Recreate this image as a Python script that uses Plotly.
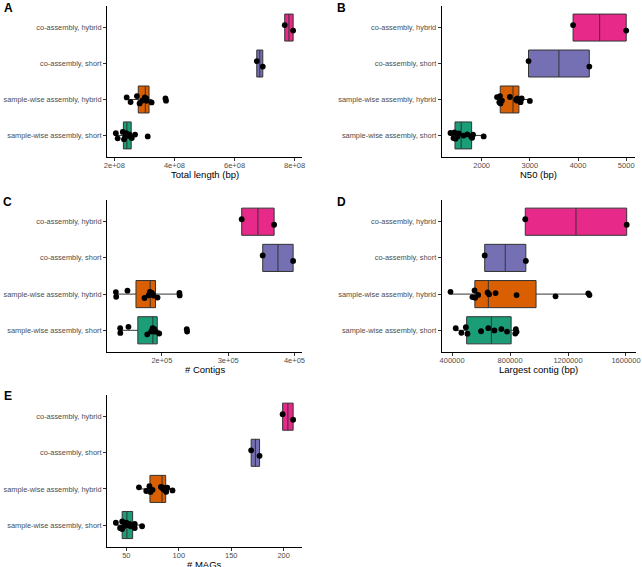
import plotly.graph_objects as go

W, H = 642, 567

categories = ["sample-wise assembly, short", "sample-wise assembly, hybrid",
              "co-assembly, short", "co-assembly, hybrid"]
fill_colors = ["#1B9E77", "#D95F02", "#7570B3", "#E7298A"]

# A: Total length (bp)
length_sw_short = [2.05e8, 2.11e8, 2.28e8, 2.32e8, 2.36e8, 2.39e8, 2.44e8, 2.50e8, 2.54e8, 2.58e8, 2.69e8, 3.11e8]
length_sw_hybrid = [2.41e8, 2.54e8, 2.75e8, 2.84e8, 2.93e8, 3.01e8, 3.05e8, 3.06e8, 3.07e8, 3.24e8, 3.70e8, 3.72e8]
length_co_short = [6.74e8, 6.94e8]
length_co_hybrid = [7.67e8, 7.95e8]
length_ticks = [2e8, 4e8, 6e8, 8e8]
length_ticklabels = ["2e+08", "4e+08", "6e+08", "8e+08"]

# B: N50 (bp)
n50_sw_short = [1352, 1414, 1435, 1455, 1500, 1524, 1624, 1700, 1781, 1801, 1820, 2041]
n50_sw_hybrid = [2318, 2366, 2380, 2390, 2420, 2586, 2714, 2738, 2738, 2807, 2830, 3000]
n50_co_short = [2972, 4234]
n50_co_hybrid = [3897, 5000]
n50_ticks = [2000, 3000, 4000, 5000]
n50_ticklabels = ["2000", "3000", "4000", "5000"]

# C: # Contigs
contigs_sw_short = [137000, 137200, 149500, 177800, 183800, 186000, 186800, 188800, 189900, 195900, 237500, 238000]
contigs_sw_hybrid = [130500, 131000, 148000, 173700, 180000, 181800, 182800, 185000, 187300, 193400, 226400, 226800]
contigs_co_short = [352100, 398000]
contigs_co_hybrid = [320400, 369300]
contigs_ticks = [2e5, 3e5, 4e5]
contigs_ticklabels = ["2e+05", "3e+05", "4e+05"]

# D: Largest contig (bp)
largest_sw_short = [425000, 464000, 495000, 506000, 600000, 650000, 692000, 740000, 779000, 836000, 840000, 845000]
largest_sw_hybrid = [389000, 540000, 555000, 559000, 580000, 645000, 655000, 700000, 845000, 1114000, 1340000, 1348000]
largest_co_short = [625000, 909000]
largest_co_hybrid = [905000, 1605000]
largest_ticks = [400000, 800000, 1200000, 1600000]
largest_ticklabels = ["400000", "800000", "1200000", "1600000"]

# E: # MAGs
mags_sw_short = [40, 44, 46, 46, 48, 50, 51, 53, 54, 58, 58, 65]
mags_sw_hybrid = [62, 69, 72, 73, 75, 83, 85, 85, 87, 88, 89, 94]
mags_co_short = [169, 177]
mags_co_hybrid = [199, 209]
mags_ticks = [50, 100, 150, 200]
mags_ticklabels = ["50", "100", "150", "200"]

FONT = "Liberation Sans, Arial, sans-serif"

# panel geometry in pixels: (left, right, top, bottom)
panels = [
    dict(letter="A", title="Total length (bp)", groups=[length_sw_short, length_sw_hybrid, length_co_short, length_co_hybrid],
         ticks=length_ticks, labels=length_ticklabels, box=(107, 302, 6, 157), lpos=(8.2, 8.2)),
    dict(letter="B", title="N50 (bp)", groups=[n50_sw_short, n50_sw_hybrid, n50_co_short, n50_co_hybrid],
         ticks=n50_ticks, labels=n50_ticklabels, box=(441.7, 635, 6, 157), lpos=(341.7, 8.2)),
    dict(letter="C", title="# Contigs", groups=[contigs_sw_short, contigs_sw_hybrid, contigs_co_short, contigs_co_hybrid],
         ticks=contigs_ticks, labels=contigs_ticklabels, box=(107, 302, 200, 352), lpos=(7.5, 201.7)),
    dict(letter="D", title="Largest contig (bp)", groups=[largest_sw_short, largest_sw_hybrid, largest_co_short, largest_co_hybrid],
         ticks=largest_ticks, labels=largest_ticklabels, box=(441.7, 635.5, 200, 352), lpos=(341.7, 201.7)),
    dict(letter="E", title="# MAGs", groups=[mags_sw_short, mags_sw_hybrid, mags_co_short, mags_co_hybrid],
         ticks=mags_ticks, labels=mags_ticklabels, box=(107, 302, 395, 546.7), lpos=(7.5, 395.5)),
]

fig = go.Figure()
layout = dict(
    width=W, height=H, margin=dict(l=0, r=0, t=0, b=0, autoexpand=False),
    paper_bgcolor="white", plot_bgcolor="white",
    showlegend=False, boxmode="overlay",
    font=dict(family=FONT, size=8, color="#4D4D4D"),
    annotations=[],
)

for i, p in enumerate(panels):
    n = "" if i == 0 else str(i + 1)
    xa, ya = "x" + n, "y" + n
    l, r, t, b = p["box"]
    allv = [v for g in p["groups"] for v in g]
    lo, hi = min(allv), max(allv)
    pad = 0.05 * (hi - lo)
    for cat, col, vals in zip(categories, fill_colors, p["groups"]):
        # box with Tukey whiskers (outlier markers hidden)
        fig.add_trace(go.Box(
            x=vals, y=[cat] * len(vals), orientation="h",
            xaxis=xa, yaxis=ya, width=0.75,
            fillcolor=col, line=dict(color="#333333", width=1),
            whiskerwidth=0, boxpoints="outliers",
            marker=dict(color="rgba(0,0,0,0)", size=1, opacity=0),
            quartilemethod="linear", hoverinfo="skip",
        ))
        # jittered sample points on top
        fig.add_trace(go.Box(
            x=vals, y=[cat] * len(vals), orientation="h",
            xaxis=xa, yaxis=ya, width=0.75,
            fillcolor="rgba(0,0,0,0)", line=dict(color="rgba(0,0,0,0)", width=0),
            whiskerwidth=0, boxpoints="all", jitter=0.35, pointpos=0,
            marker=dict(color="black", size=5.8, line=dict(width=0)),
            quartilemethod="linear",
        ))
    layout["xaxis" + n] = dict(
        domain=[l / W, r / W], anchor=ya, range=[lo - pad, hi + pad], automargin=False,
        showline=True, linecolor="black", linewidth=1, mirror=False,
        showgrid=False, zeroline=False,
        ticks="outside", ticklen=3, tickwidth=1, tickcolor="#333333",
        ticklabelstandoff=-2,
        tickvals=p["ticks"], ticktext=p["labels"],
        tickfont=dict(family=FONT, size=7.5, color="#4D4D4D"),
    )
    layout["yaxis" + n] = dict(
        domain=[1 - b / H, 1 - t / H], anchor=xa, type="category", automargin=False,
        categoryorder="array", categoryarray=categories, range=[-0.6, 3.6],
        showline=True, linecolor="black", linewidth=1,
        showgrid=False, zeroline=False,
        ticks="outside", ticklen=3, tickwidth=1, tickcolor="#333333",
        tickfont=dict(family=FONT, size=7.4, color="#4D4D4D"),
    )
    layout["annotations"].append(dict(
        text=p["title"], xref="paper", yref="paper",
        x=(l + r) / 2 / W, y=1 - (b + 17.5) / H, xanchor="center", yanchor="middle",
        showarrow=False, font=dict(family=FONT, size=9.5, color="black"),
    ))
    layout["annotations"].append(dict(
        text="<b>" + p["letter"] + "</b>", xref="paper", yref="paper",
        x=p["lpos"][0] / W, y=1 - p["lpos"][1] / H, xanchor="center", yanchor="middle",
        showarrow=False, font=dict(family=FONT, size=12, color="black"),
    ))

fig.update_layout(**layout)
fig.write_html(
    "out.html",
    config={"displayModeBar": False},
    post_script="document.body.style.margin='0';document.body.style.padding='0';",
)
